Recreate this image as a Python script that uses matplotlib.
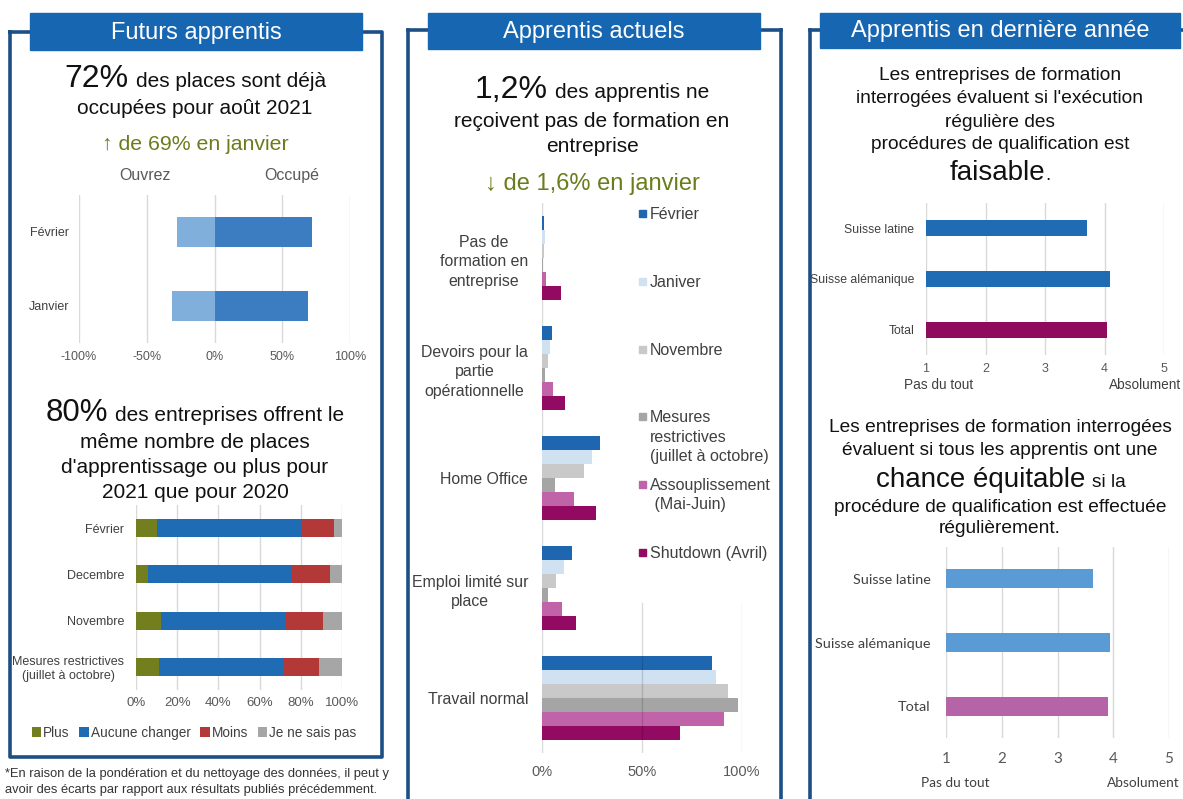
import numpy as np
import matplotlib
matplotlib.use("Agg")
import matplotlib.pyplot as plt
from matplotlib.patches import Rectangle
from matplotlib.lines import Line2D

plt.rcParams['font.family'] = ['Liberation Sans', 'DejaVu Sans']

# ---- data ----
months_places = ['Février', 'Janvier']
ouvrez = [28, 31]
occupe = [72, 69]

months_offre = ['Février', 'Decembre', 'Novembre', 'Mesures restrictives\n(juillet à octobre)']
offre_plus = [10, 6, 12, 11]
offre_aucune = [70, 69, 61, 61]
offre_moins = [16, 19, 18, 17]
offre_nsp = [4, 6, 9, 11]
offre_names = ['Plus', 'Aucune changer', 'Moins', 'Je ne sais pas']

situations = ['Pas de\nformation en\nentreprise', 'Devoirs pour la\npartie\nopérationnelle',
              'Home Office', 'Emploi limité sur\nplace', 'Travail normal']
periodes = ['Février', 'Janiver', 'Novembre', 'Mesures\nrestrictives\n(juillet à octobre)',
            'Assouplissement\n (Mai-Juin)', 'Shutdown (Avril)']
fevrier = [1.2, 5, 29, 15, 85]
janvier = [1.6, 4, 25, 11, 87]
novembre = [0.8, 3, 21, 7, 93]
mesures = [0.5, 1.3, 6.5, 3, 98]
assoupl = [2, 5.5, 16, 10, 91]
shutdown = [9.5, 11.5, 27, 17, 69]

regions = ['Suisse latine', 'Suisse alémanique', 'Total']
faisable = [3.71, 4.09, 4.05]
equitable = [3.64, 3.95, 3.91]

# ---- layout helpers (pixel coords, origin top-left) ----
W, H = 1183, 799
fig = plt.figure(figsize=(W / 100, H / 100), dpi=100)
renderer = fig.canvas.get_renderer()


def fx(x):
    return x / W


def fy(y):
    return 1 - y / H


def box(x0, y0, x1, y1):
    return [x0 / W, 1 - y1 / H, (x1 - x0) / W, (y1 - y0) / H]


def txt(x, y, s, size, **kw):
    kw.setdefault('ha', 'center')
    kw.setdefault('va', 'baseline')
    kw.setdefault('color', '#111111')
    return fig.text(fx(x), fy(y), s, fontsize=size, **kw)


def mixed(xc, yb, parts, gap=7):
    items = []
    for s, size, color in parts:
        items.append(fig.text(0, 0, s, fontsize=size, color=color, ha='left', va='baseline'))
    widths = [t.get_window_extent(renderer).width for t in items]
    x = xc - (sum(widths) + gap * (len(items) - 1)) / 2
    for t, w in zip(items, widths):
        t.set_position((fx(x), fy(yb)))
        x += w + gap


def header(x0, y0, x1, y1, title):
    fig.patches.append(Rectangle((fx(x0), fy(y1)), (x1 - x0) / W, (y1 - y0) / H,
                                 transform=fig.transFigure, color='#1766b1', zorder=3))
    fig.text(fx((x0 + x1) / 2), fy((y0 + y1) / 2 + 1), title, fontsize=17, color='white',
             ha='center', va='center', zorder=4)


def fline(xs, ys, lw=2.6, color='#1c4f86'):
    fig.add_artist(Line2D([fx(x) for x in xs], [fy(y) for y in ys], lw=lw, color=color,
                          transform=fig.transFigure, zorder=2, solid_capstyle='projecting'))


def style(ax, size, pad_x, pad_y, color='#595959', ycolor='#404040', ysize=None):
    for s in ax.spines.values():
        s.set_visible(False)
    ax.set_axisbelow(True)
    ax.grid(axis='x', color='#d9d9d9', lw=1)
    ax.tick_params(axis='x', length=0, labelsize=size, colors=color, pad=pad_x)
    ax.tick_params(axis='y', length=0, labelsize=ysize or size, colors=ycolor, pad=pad_y)


BIG = 15

# ---- panel frames ----
fline([10, 10, 382, 382, 10], [32, 757, 757, 32, 32])
fline([408, 408], [30, 805])
fline([408, 781], [30, 30])
fline([781, 781], [30, 805])
fline([810, 810], [30, 805])
fline([810, 1190], [30, 30])
header(30, 13, 362, 50, 'Futurs apprentis')
header(428, 13, 760, 49, 'Apprentis actuels')
header(820, 13, 1180, 48, 'Apprentis en dernière année')

# ---- panel 1 : places ----
mixed(195, 87, [('72%', 23, '#111111'), ('des places sont déjà', BIG, '#111111')])
txt(195, 114, 'occupées pour août 2021', BIG)
txt(195, 150, '↑ de 69% en janvier', 15.3, color='#6a7d1c')
txt(145, 180, 'Ouvrez', 11.5, color='#595959', family=['Liberation Sans Narrow', 'Liberation Sans'])
txt(292, 180, 'Occupé', 11.5, color='#595959', family=['Liberation Sans Narrow', 'Liberation Sans'])

ax1 = fig.add_axes(box(79, 195, 350, 343))
y1 = np.arange(len(months_places))
ax1.barh(y1, [-v for v in ouvrez], height=0.4, color='#80afdc')
ax1.barh(y1, occupe, height=0.4, color='#3b7dc0')
ax1.set_xlim(-100, 100)
ax1.set_ylim(1.5, -0.5)
ax1.set_xticks([-100, -50, 0, 50, 100])
ax1.set_xticklabels([f'{v}%' for v in [-100, -50, 0, 50, 100]])
ax1.set_yticks(y1)
ax1.set_yticklabels(months_places)
style(ax1, 9, 6, 7)

mixed(195, 421, [('80%', 22.5, '#111111'), ('des entreprises offrent le', BIG, '#111111')])
txt(195, 448, 'même nombre de places', BIG)
txt(195, 473, "d'apprentissage ou plus pour", BIG)
txt(195, 498, '2021 que pour 2020', BIG)

ax2 = fig.add_axes(box(136, 505, 342, 690))
y2 = np.arange(len(months_offre))
left = np.zeros(len(months_offre))
offre_colors = ['#737f1f', '#1f6cb5', '#b33838', '#a6a6a6']
bars = []
for vals, c in zip([offre_plus, offre_aucune, offre_moins, offre_nsp], offre_colors):
    bars.append(ax2.barh(y2, vals, left=left, height=0.39, color=c))
    left += np.array(vals)
ax2.set_xlim(0, 100)
ax2.set_ylim(3.5, -0.5)
ax2.set_xticks(range(0, 101, 20))
ax2.set_xticklabels([f'{v}%' for v in range(0, 101, 20)])
ax2.set_yticks(y2)
ax2.set_yticklabels(months_offre)
for lbl in ax2.get_yticklabels():
    lbl.set_multialignment('center')
style(ax2, 9.5, 5, 8.5, ysize=9)
fig.legend(bars, offre_names, loc='center', bbox_to_anchor=(fx(194), fy(733)), ncol=4,
           frameon=False, fontsize=9.8, handlelength=0.7, handleheight=0.7,
           handletextpad=0.15, columnspacing=0.7, labelcolor='#404040')

txt(5, 777, '*En raison de la pondération et du nettoyage des données, il peut y', 9.3,
    ha='left', color='#333333')
txt(5, 793, 'avoir des écarts par rapport aux résultats publiés précédemment.', 9.3,
    ha='left', color='#333333')

# ---- panel 2 : situation des apprentis ----
mixed(592, 98, [('1,2%', 23, '#111111'), ('des apprentis ne', BIG, '#111111')])
txt(592, 127, 'reçoivent pas de formation en', BIG)
txt(592, 152, 'entreprise', BIG)
txt(592, 190, '↓ de 1,6% en janvier', 17, color='#6a7d1c')

ax3 = fig.add_axes(box(542, 203, 742, 753))
y3 = np.arange(len(situations))
series = [fevrier, janvier, novembre, mesures, assoupl, shutdown]
serie_colors = ['#1f66b0', '#d0e1f2', '#c9c9c9', '#a5a5a5', '#c063a8', '#920a61']
bh = 0.127
for i, (vals, c) in enumerate(zip(series, serie_colors)):
    ax3.barh(y3 + (i - 2.5) * bh, vals, height=bh, color=c)
ax3.set_xlim(0, 100)
ax3.set_ylim(4.5, -0.5)
ax3.set_xticks([0, 50, 100])
ax3.set_xticklabels(['0%', '50%', '100%'])
ax3.set_yticks(y3)
ax3.set_yticklabels(situations)
for lbl in ax3.get_yticklabels():
    lbl.set_multialignment('center')
    lbl.set_linespacing(1.4)
style(ax3, 10.5, 9, 10, ysize=11.4)
ax3.grid(False)
ax3.axvline(0, color='#d9d9d9', lw=1, zorder=0.5)
for g in [50, 100]:
    ax3.axvline(g, ymin=0, ymax=(753 - 603) / 550, color='black', alpha=0.14, lw=1, zorder=3)

for i, (name, c) in enumerate(zip(periodes, serie_colors)):
    yy = 213 + 67.8 * i
    fig.patches.append(Rectangle((fx(639), fy(yy + 4)), 7 / W, 7 / H,
                                 transform=fig.transFigure, color=c))
    fig.text(fx(650), fy(yy - 6), name, fontsize=11.5, color='#404040', ha='left', va='top',
             linespacing=1.35)

# ---- panel 3 : procédures de qualification ----
MID = 13.8
txt(1000, 80, 'Les entreprises de formation', MID)
txt(1000, 103, "interrogées évaluent si l'exécution", MID)
txt(1000, 127, 'régulière des', MID)
txt(1000, 149, 'procédures de qualification est', MID)
mixed(1000, 180, [('faisable', 20, '#111111'), ('.', MID, '#111111')], gap=0)

ax4 = fig.add_axes(box(926, 203, 1164, 355))
y4 = np.arange(len(regions))
ax4.barh(y4, faisable, height=0.31, color=['#1f6cb5', '#1f6cb5', '#8e0b5e'])
ax4.set_xlim(1, 5)
ax4.set_ylim(2.5, -0.5)
ax4.set_xticks([1, 2, 3, 4, 5])
ax4.set_yticks(y4)
ax4.set_yticklabels(regions)
style(ax4, 9, 6, 8.5, ysize=8.8)
txt(939, 389, 'Pas du tout', 9.8, color='#404040')
txt(1145, 389, 'Absolument', 9.8, color='#404040')

txt(1000, 432, 'Les entreprises de formation interrogées', MID)
txt(1000, 455, 'évaluent si tous les apprentis ont une', MID)
mixed(1001, 487, [('chance équitable', 20, '#111111'), ('si la', MID, '#111111')])
txt(1000, 512, 'procédure de qualification est effectuée', MID)
txt(1000, 533, 'régulièrement.', MID)

ax5 = fig.add_axes(box(946, 547, 1169, 738))
ax5.barh(y4, equitable, height=0.3, color=['#5b9bd5', '#5b9bd5', '#b565a7'])
ax5.set_xlim(1, 5)
ax5.set_ylim(2.5, -0.5)
ax5.set_xticks([1, 2, 3, 4, 5])
ax5.set_yticks(y4)
ax5.set_yticklabels(regions, family=['Lato', 'Liberation Sans'])
for lbl in ax5.get_xticklabels():
    lbl.set_family(['Lato', 'Liberation Sans'])
style(ax5, 11, 10, 11, ysize=10.4)
txt(955, 787, 'Pas du tout', 9.8, color='#404040', family=['Lato', 'Liberation Sans'])
txt(1143, 787, 'Absolument', 9.8, color='#404040', family=['Lato', 'Liberation Sans'])

fig.savefig('out.png', dpi=100, facecolor='white')
